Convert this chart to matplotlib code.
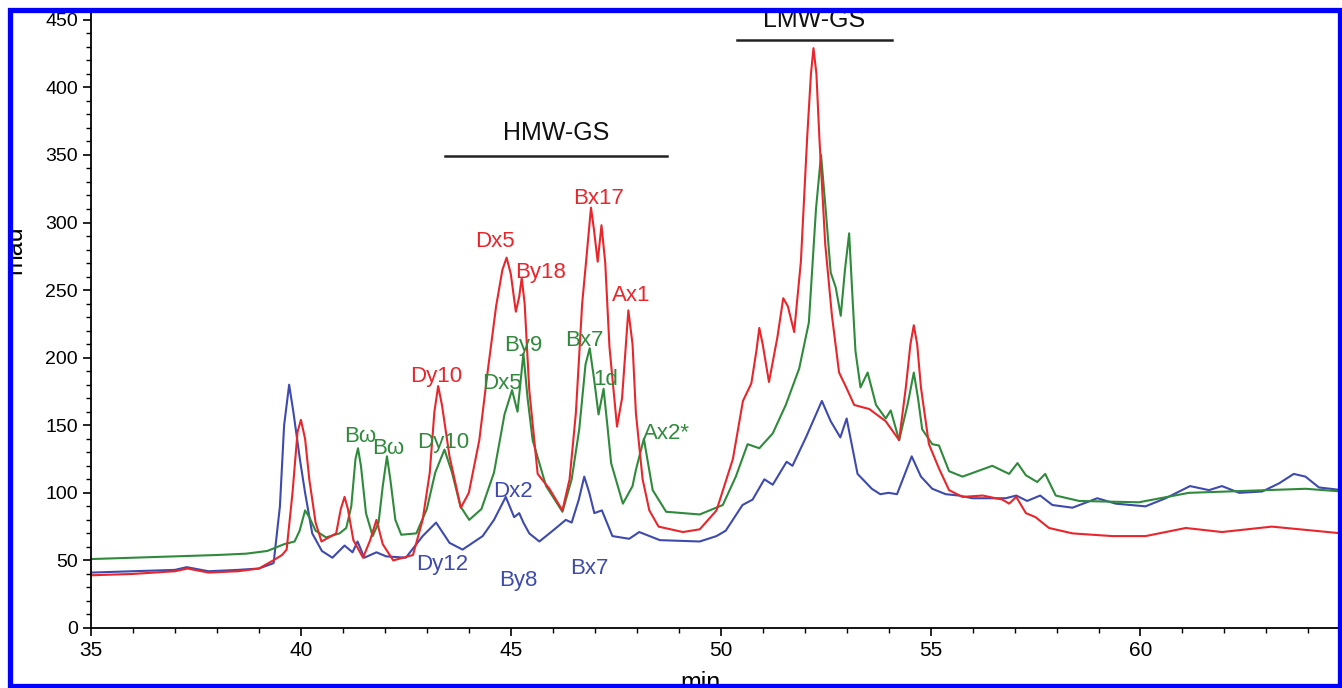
import matplotlib
matplotlib.use("Agg")
import matplotlib.pyplot as plt
import numpy as np
from matplotlib.patches import Rectangle
from matplotlib.ticker import MultipleLocator

plt.rcParams['font.family'] = ['Liberation Sans', 'DejaVu Sans']

# chromatogram traces: (time in min, absorbance in mau)
red_trace = [
    (35.0, 39), (36.0, 40), (37.0, 42), (37.3, 44), (37.8, 41), (38.5, 42), (39.0, 44),
    (39.34, 50), (39.55, 54), (39.66, 58), (39.8, 100), (39.92, 145), (40.0, 154),
    (40.1, 140), (40.2, 110), (40.35, 78), (40.49, 64), (40.84, 70), (40.95, 88),
    (41.04, 97), (41.12, 88), (41.25, 65), (41.48, 52), (41.65, 65), (41.8, 80),
    (41.95, 62), (42.2, 50), (42.67, 54), (42.9, 80), (43.07, 115), (43.18, 160),
    (43.27, 179), (43.36, 165), (43.54, 127), (43.81, 89), (44.0, 100), (44.25, 139),
    (44.45, 190), (44.65, 238), (44.8, 265), (44.9, 274), (45.0, 262), (45.12, 234),
    (45.2, 245), (45.26, 259), (45.33, 240), (45.44, 176), (45.64, 114), (45.92, 103),
    (46.23, 87), (46.4, 110), (46.55, 159), (46.7, 240), (46.79, 270), (46.91, 311),
    (46.98, 295), (47.07, 271), (47.16, 298), (47.25, 270), (47.35, 208), (47.53, 149),
    (47.65, 170), (47.8, 235), (47.9, 210), (47.98, 159), (48.14, 110), (48.3, 87),
    (48.52, 75), (49.1, 71), (49.5, 73), (49.9, 87), (50.29, 125), (50.53, 168),
    (50.73, 181), (50.85, 205), (50.92, 222), (51.0, 210), (51.15, 182), (51.35, 215),
    (51.49, 244), (51.6, 238), (51.75, 219), (51.91, 271), (52.06, 363), (52.15, 410),
    (52.21, 429), (52.28, 410), (52.35, 363), (52.49, 284), (52.65, 231), (52.82, 189),
    (52.99, 178), (53.18, 165), (53.54, 162), (53.93, 153), (54.25, 139), (54.41, 178),
    (54.52, 210), (54.6, 224), (54.68, 210), (54.77, 178), (54.96, 136), (55.2, 118),
    (55.44, 102), (55.76, 97), (56.24, 98), (56.71, 95), (56.87, 92), (57.04, 97),
    (57.27, 85), (57.5, 82), (57.82, 74), (58.38, 70), (59.33, 68), (60.12, 68),
    (61.08, 74), (61.94, 71), (63.13, 75), (64.8, 70),
]

green_trace = [
    (35.0, 51), (36.0, 52), (37.0, 53), (38.0, 54), (38.7, 55), (39.2, 57), (39.6, 62),
    (39.85, 64), (39.97, 72), (40.1, 87), (40.2, 82), (40.35, 72), (40.6, 67),
    (40.92, 70), (41.08, 74), (41.2, 90), (41.3, 125), (41.36, 133), (41.43, 120),
    (41.55, 85), (41.71, 68), (41.85, 78), (41.95, 105), (42.05, 127), (42.13, 110),
    (42.25, 80), (42.39, 69), (42.75, 70), (43.0, 88), (43.2, 115), (43.42, 132),
    (43.6, 115), (43.8, 90), (44.01, 80), (44.3, 88), (44.6, 115), (44.85, 158),
    (45.03, 176), (45.16, 160), (45.3, 203), (45.4, 170), (45.52, 139), (45.84, 105),
    (46.23, 86), (46.45, 110), (46.63, 147), (46.78, 195), (46.88, 207), (46.98, 185),
    (47.09, 158), (47.21, 177), (47.3, 150), (47.39, 122), (47.67, 92), (47.9, 105),
    (47.98, 117), (48.17, 140), (48.28, 120), (48.38, 102), (48.7, 86), (49.5, 84),
    (50.05, 91), (50.36, 112), (50.64, 136), (50.92, 133), (51.24, 144), (51.55, 165),
    (51.87, 192), (52.1, 226), (52.27, 310), (52.39, 350), (52.5, 310), (52.62, 263),
    (52.74, 252), (52.86, 231), (52.96, 265), (53.06, 292), (53.13, 250), (53.21, 205),
    (53.33, 178), (53.5, 189), (53.7, 165), (53.93, 155), (54.05, 161), (54.25, 139),
    (54.45, 165), (54.6, 189), (54.7, 170), (54.8, 147), (55.04, 136), (55.2, 135),
    (55.44, 116), (55.76, 112), (56.47, 120), (56.87, 114), (57.07, 122), (57.27, 113),
    (57.54, 108), (57.73, 114), (57.98, 98), (58.54, 94), (59.96, 93), (61.15, 100),
    (63.93, 103), (64.8, 101),
]

blue_trace = [
    (35.0, 41), (36.0, 42), (37.0, 43), (37.28, 45), (37.8, 42), (38.5, 43), (39.0, 44),
    (39.35, 48), (39.5, 90), (39.6, 150), (39.72, 180), (39.82, 160), (39.98, 124),
    (40.1, 100), (40.27, 70), (40.5, 57), (40.75, 52), (41.04, 61), (41.23, 56),
    (41.35, 64), (41.51, 52), (41.8, 56), (42.03, 53), (42.5, 52), (42.9, 68),
    (43.22, 78), (43.54, 63), (43.85, 58), (44.33, 68), (44.6, 80), (44.88, 97),
    (45.08, 82), (45.2, 85), (45.3, 78), (45.44, 70), (45.68, 64), (46.0, 72),
    (46.31, 80), (46.45, 78), (46.62, 95), (46.75, 112), (46.87, 100), (46.99, 85),
    (47.17, 87), (47.42, 68), (47.82, 66), (48.06, 71), (48.55, 65), (49.5, 64),
    (49.9, 68), (50.12, 72), (50.52, 91), (50.76, 95), (51.04, 110), (51.24, 106),
    (51.57, 123), (51.71, 120), (52.03, 141), (52.41, 168), (52.62, 153), (52.85, 141),
    (53.0, 155), (53.26, 114), (53.6, 103), (53.8, 99), (54.0, 100), (54.2, 99),
    (54.55, 127), (54.77, 112), (55.04, 103), (55.36, 99), (55.67, 98), (56.0, 96),
    (56.79, 96), (57.04, 98), (57.3, 94), (57.61, 98), (57.9, 91), (58.38, 89),
    (58.97, 96), (59.41, 92), (60.12, 90), (60.6, 96), (61.18, 105), (61.63, 102),
    (61.94, 105), (62.35, 100), (62.9, 101), (63.3, 107), (63.65, 114), (63.93, 112),
    (64.25, 104), (64.8, 102),
]

# peak labels: (text, time, mau)
red_labels = [("Dy10", 43.23, 186), ("Dx5", 44.62, 286), ("By18", 45.7, 263),
              ("Bx17", 47.08, 318), ("Ax1", 47.87, 246)]
green_labels = [("B\u03c9", 41.42, 142), ("B\u03c9", 42.07, 133), ("Dy10", 43.4, 137),
                ("Dx5", 44.8, 181), ("By9", 45.3, 209), ("Bx7", 46.76, 213),
                ("1d", 47.25, 184), ("Ax2*", 48.7, 144)]
blue_labels = [("Dx2", 45.05, 101), ("Dy12", 43.37, 47), ("By8", 45.19, 35),
               ("Bx7", 46.86, 44)]

# subunit group bars: (text, start, end, bar level, text level)
groups = [("HMW-GS", 43.43, 48.71, 349, 366), ("LMW-GS", 50.38, 54.07, 435, 450)]

RED = '#e8262c'
GREEN = '#2f8a3c'
BLUE = '#3e4aae'

fig = plt.figure(figsize=(13.42, 6.88), dpi=100)
ax = fig.add_axes([91 / 1342, 60 / 688, 1 - 91 / 1342, 615 / 688])

for trace, col in [(blue_trace, BLUE), (green_trace, GREEN), (red_trace, RED)]:
    t, v = np.array(trace).T
    ax.plot(t, v, color=col, lw=1.5, solid_joinstyle='round')

for labels, col in [(red_labels, RED), (green_labels, GREEN), (blue_labels, BLUE)]:
    for txt, t, v in labels:
        ax.text(t, v, txt, color=col, fontsize=16, ha='center', va='center')

for txt, t0, t1, ybar, ytxt in groups:
    ax.plot([t0, t1], [ybar, ybar], color='#222222', lw=1.8)
    ax.text((t0 + t1) / 2, ytxt, txt, fontsize=18, ha='center', va='center',
            color='#111111')

ax.set_xlim(35, 64.8)
ax.set_ylim(0, 455)
ax.xaxis.set_major_locator(MultipleLocator(5))
ax.xaxis.set_minor_locator(MultipleLocator(1))
ax.yaxis.set_major_locator(MultipleLocator(50))
ax.yaxis.set_minor_locator(MultipleLocator(10))
ax.tick_params(which='major', direction='out', length=6, width=1.2, labelsize=14)
ax.tick_params(which='minor', direction='out', length=3.5, width=1.0)
ax.tick_params(axis='x', pad=3)
for lab in ax.get_xticklabels():
    lab.set_family(['Liberation Sans Narrow', 'Liberation Sans'])
    lab.set_fontsize(15)

for side in ['top', 'right']:
    ax.spines[side].set_visible(False)
for side in ['left', 'bottom']:
    ax.spines[side].set_linewidth(1.3)

ax.set_ylabel('mau', fontsize=18)
ax.yaxis.set_label_coords(-0.052, 0.615)
ax.set_xlabel('min', fontsize=18)
ax.xaxis.set_label_coords(0.487, -0.07)

# blue frame round the whole picture
fig.patches.append(Rectangle((9.5 / 1342, 2.5 / 688), 1330 / 1342, 675.5 / 688,
                             transform=fig.transFigure, fill=False,
                             edgecolor='#0000ff', lw=3.8, zorder=10))

fig.savefig('out.png', dpi=100)
